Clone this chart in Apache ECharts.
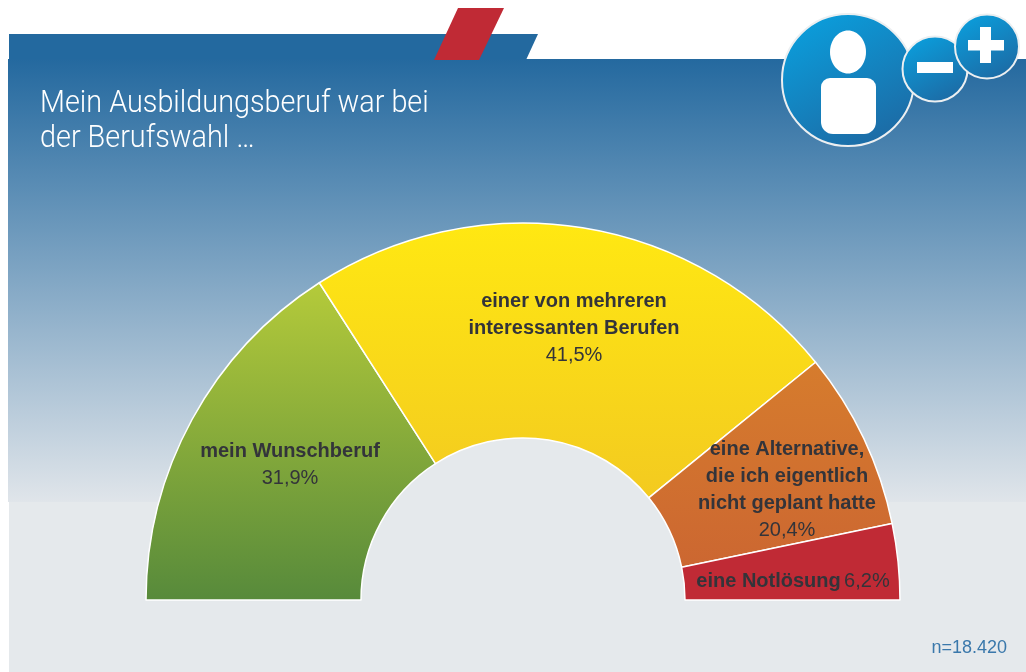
<!DOCTYPE html>
<html>
<head>
<meta charset="utf-8">
<style>
    html, body { margin: 0; padding: 0; background: #fff; }
    #chart { width: 1026px; height: 672px; }
</style>
</head>
<body>
<div id="chart"></div>
<script src="https://cdn.jsdelivr.net/npm/echarts@6/dist/echarts.min.js"></script>
<script>
    const categories = ['mein Wunschberuf', 'einer von mehreren\ninteressanten Berufen', 'eine Alternative,\ndie ich eigentlich\nnicht geplant hatte', 'eine Notlösung'];
    // printed on the slices
    const shareLabels = ['31,9%', '41,5%', '20,4%', '6,2%'];
    // slice spans as drawn in the picture, in degrees (not the same as the printed shares)
    const drawnSpans = [57.3, 83.6, 27.4, 11.7];

    const FONT = '"Liberation Sans", sans-serif';
    const TEXT = '#33343a';

    function vgrad(y, y2, c1, c2) {
        return {type: 'linear', x: 0, y: y, x2: 0, y2: y2, global: true,
            colorStops: [{offset: 0, color: c1}, {offset: 1, color: c2}]};
    }
    const sliceColors = [
        vgrad(285, 600, '#b4ca3a', '#578a3b'),
        vgrad(224, 500, '#ffe812', '#f3ca20'),
        vgrad(362, 566, '#d67c2d', '#cc6731'),
        '#c02a35'
    ];
    // label centres in the picture
    const labelPos = [[290, 465], [574, 328], [787, 490], [793, 581]];

    const badge = {type: 'linear', x: 0.2, y: 0, x2: 0.75, y2: 1,
        colorStops: [{offset: 0, color: '#0a9fdd'}, {offset: 1, color: '#1d69a3'}]};
    const ring = {fill: badge, stroke: '#eceff1', lineWidth: 2};
    const white = {fill: '#fff'};

    let myChart = echarts.init(document.getElementById('chart'), null, {renderer: 'canvas'});
    myChart.setOption({
        animation: false,
        title: {
            text: 'n=18.420',
            right: 19, top: 639, padding: 0,
            textStyle: {color: '#3a78ab', fontFamily: FONT, fontWeight: 'normal', fontSize: 18}
        },
        graphic: [
            // panel behind the chart
            {type: 'polygon', z: -10, silent: true, shape: {points: [[9, 34], [538, 34], [526, 60], [9, 60]]}, style: {fill: '#23699f'}},
            {type: 'rect', z: -10, silent: true, shape: {x: 8, y: 59, width: 1018, height: 443},
                style: {fill: vgrad(59, 502, '#24699f', '#e0e5ea')}},
            {type: 'rect', z: -10, silent: true, shape: {x: 9, y: 502, width: 1017, height: 170}, style: {fill: '#e5e9ec'}},
            {type: 'polygon', z: -9, silent: true, shape: {points: [[458, 8], [504, 8], [479, 60], [434, 60]]}, style: {fill: '#c02a35'}},
            // hole of the half ring is filled flat
            {type: 'circle', z: -8, silent: true, shape: {cx: 523, cy: 600, r: 163}, style: {fill: '#e5e9ec'}},
            // heading, squeezed because no condensed face is installed
            {type: 'text', z: 5, silent: true, x: 40, y: 86, scaleX: 0.9,
                style: {text: 'Mein Ausbildungsberuf war bei\nder Berufswahl …', fill: '#fff', font: '300 32px Roboto, "Liberation Sans", sans-serif', lineHeight: 35}},
            // person icon
            {type: 'circle', z: 5, silent: true, shape: {cx: 848, cy: 80, r: 66}, style: ring},
            {type: 'ellipse', z: 5, silent: true, shape: {cx: 848, cy: 52, rx: 18, ry: 21.5}, style: white},
            {type: 'rect', z: 5, silent: true, shape: {x: 821, y: 78, width: 55, height: 56, r: [9, 9, 12, 12]}, style: white},
            {type: 'circle', z: 6, silent: true, shape: {cx: 935, cy: 69, r: 32.5}, style: ring},
            {type: 'rect', z: 6, silent: true, shape: {x: 917, y: 62, width: 36, height: 11}, style: white},
            {type: 'circle', z: 7, silent: true, shape: {cx: 987, cy: 46.5, r: 32}, style: ring},
            {type: 'rect', z: 7, silent: true, shape: {x: 968, y: 40, width: 36, height: 10.5}, style: white},
            {type: 'rect', z: 7, silent: true, shape: {x: 980, y: 27, width: 11, height: 36}, style: white}
        ],
        series: [
            {
                type: 'pie',
                center: [523, 600],
                radius: [162, 377],
                startAngle: 180,
                endAngle: 0,
                silent: true,
                itemStyle: {borderColor: '#fff', borderWidth: 1.5},
                labelLine: {show: false},
                label: {
                    show: true,
                    position: 'inside',
                    align: 'center',
                    verticalAlign: 'middle',
                    fontFamily: FONT,
                    color: TEXT,
                    lineHeight: 27,
                    formatter: function (p) {
                        let names = categories[p.dataIndex].split('\n').map(function (s) {
                            return '{b|' + s + '}';
                        }).join('\n');
                        let sep = p.dataIndex === 3 ? ' ' : '\n';
                        return names + sep + '{v|' + shareLabels[p.dataIndex] + '}';
                    },
                    rich: {
                        b: {fontFamily: FONT, fontWeight: 'bold', fontSize: 20, lineHeight: 27, color: TEXT},
                        v: {fontFamily: FONT, fontWeight: 'normal', fontSize: 20, lineHeight: 27, color: TEXT}
                    }
                },
                labelLayout: function (p) {
                    return {x: labelPos[p.dataIndex][0], y: labelPos[p.dataIndex][1], align: 'center', verticalAlign: 'middle'};
                },
                data: categories.map(function (name, i) {
                    return {name: name, value: drawnSpans[i], itemStyle: {color: sliceColors[i]}};
                })
            }
        ]
    });
</script>
</body>
</html>
